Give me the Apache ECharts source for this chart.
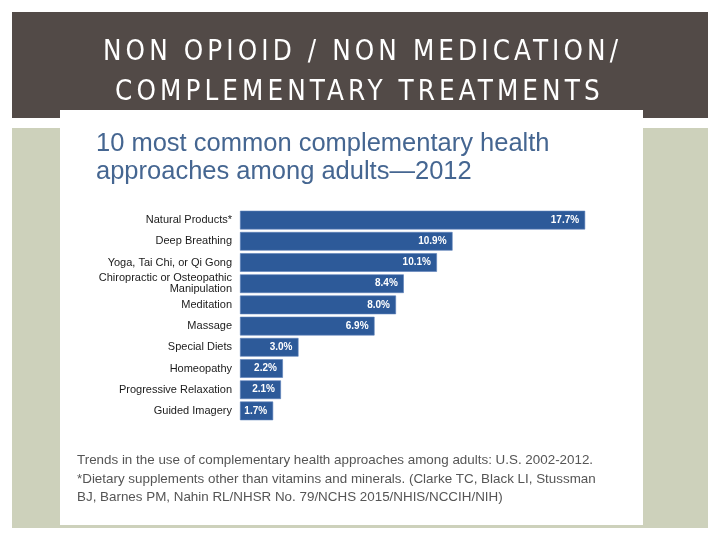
<!DOCTYPE html>
<html><head><meta charset="utf-8">
<script src="https://cdn.jsdelivr.net/npm/echarts@6/dist/echarts.min.js"></script>
<style>html,body{margin:0;padding:0;background:#fff}#c{width:720px;height:540px}</style>
</head><body><div id="c"></div>
<script>
const categories = ["Natural Products*","Deep Breathing","Yoga, Tai Chi, or Qi Gong","Chiropractic or Osteopathic\nManipulation","Meditation","Massage","Special Diets","Homeopathy","Progressive Relaxation","Guided Imagery"];
const values = [17.7,10.9,10.1,8.4,8.0,6.9,3.0,2.2,2.1,1.7];
const headerLines = ["NON OPIOID / NON MEDICATION/","COMPLEMENTARY TREATMENTS"];
const titleLines = ["10 most common complementary health","approaches among adults\u20142012"];
const footLines = ["Trends in the use of complementary health approaches among adults: U.S. 2002-2012.","*Dietary supplements other than vitamins and minerals. (Clarke TC, Black LI, Stussman","BJ, Barnes PM, Nahin RL/NHSR No. 79/NCHS 2015/NHIS/NCCIH/NIH)"];

// letter-spaced header text (canvas letterSpacing, only for the header font size)
(function(){
  const proto = CanvasRenderingContext2D.prototype;
  const orig = proto.fillText;
  proto.fillText = function(t, x, y, m){
    if ('letterSpacing' in this) this.letterSpacing = this.font.indexOf('27.5px') >= 0 ? '4.1px' : '0px';
    return m === undefined ? orig.call(this, t, x, y) : orig.call(this, t, x, y, m);
  };
})();

const chart = echarts.init(document.getElementById('c'));
const graphic = [
  {type:'rect', z:-10, shape:{x:12,y:128,width:696,height:400}, style:{fill:'#cdd1bb'}},
  {type:'rect', z:-9, shape:{x:12,y:12,width:696,height:106}, style:{fill:'#524a47'}},
  {type:'rect', z:-8, shape:{x:60,y:110,width:583,height:415}, style:{fill:'#ffffff'}},
];
const headerLeft = [103, 115];
headerLines.forEach((t,i)=>graphic.push({type:'text', left:headerLeft[i], top:39+i*40, style:{text:t, fill:'#ffffff', font:'27.5px "DejaVu Sans Condensed", "Liberation Sans Narrow", sans-serif'}}));
titleLines.forEach((t,i)=>graphic.push({type:'text', left:96, top:131+i*28, style:{text:t, fill:'#456691', font:'25.5px "Liberation Sans", Arial, sans-serif'}}));
footLines.forEach((t,i)=>graphic.push({type:'text', left:77, top:454+i*18.5, style:{text:t, fill:'#555555', font:'13.4px "Liberation Sans", Arial, sans-serif'}}));

chart.setOption({
  animation:false,
  graphic: graphic,
  grid:{left:240, top:209.5, width:390, height:212},
  xAxis:{type:'value', min:0, max:20, show:false},
  yAxis:{type:'category', inverse:true, data:categories,
    axisLine:{show:false}, axisTick:{show:false},
    axisLabel:{color:'#1a1a1a', fontSize:11, fontFamily:'"Liberation Sans", Arial, sans-serif', margin:8, lineHeight:11.5, align:'right'}},
  series:[{type:'bar', data:values, barCategoryGap:'12%', itemStyle:{color:'#2d5a99', borderColor:'#5a80b8', borderWidth:0.6},
    label:{show:true, position:'insideRight', distance:6, color:'#ffffff', fontWeight:'bold', fontSize:10, fontFamily:'"Liberation Sans", Arial, sans-serif', formatter:p=>p.value.toFixed(1)+'%'}}]
});
</script></body></html>
